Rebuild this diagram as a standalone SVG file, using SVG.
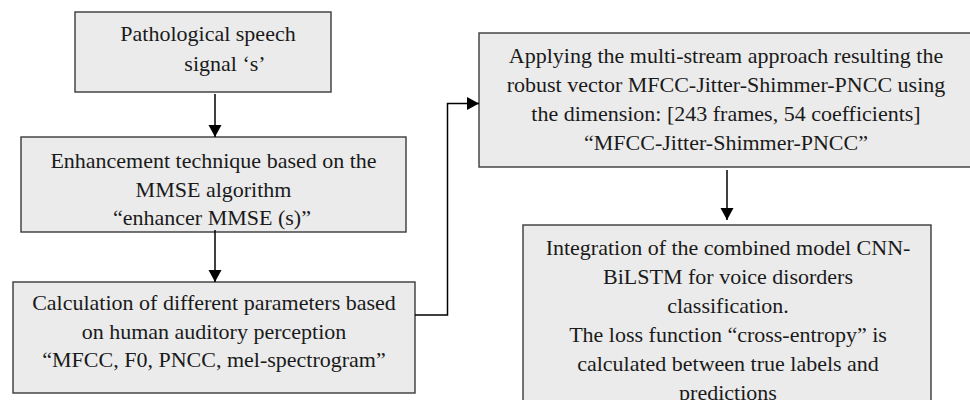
<svg xmlns="http://www.w3.org/2000/svg" width="970" height="400" viewBox="0 0 970 400">
  <style>
    .box { fill: #ebebeb; stroke: #3a3a3a; stroke-width: 1.4; }
    .lbl { font-size: 22px; fill: #1a1a1a; text-anchor: middle; }
    .conn { fill: none; stroke: #000; stroke-width: 1.5; }
  </style>
  <defs>
    <marker id="arrow" markerUnits="userSpaceOnUse" markerWidth="14" markerHeight="14" refX="12" refY="6.5" orient="auto">
      <path d="M0,0 L12,6.5 L0,13 Z" fill="#000"/>
    </marker>
  </defs>
  <rect width="970" height="400" fill="#fff"/>

  <g font-family="'Liberation Serif', 'DejaVu Serif', serif">
    <g id="signal">
      <rect class="box" x="75" y="12" width="256" height="80"/>
      <text class="lbl" x="208" y="41">Pathological speech</text>
      <text class="lbl" x="225" y="71">signal ‘s’</text>
    </g>

    <g id="enhancement">
      <rect class="box" x="21" y="137" width="385" height="95"/>
      <text class="lbl" x="213.5" y="168">Enhancement technique based on the</text>
      <text class="lbl" x="213.5" y="197">MMSE algorithm</text>
      <text class="lbl" x="212" y="225">“enhancer MMSE (s)”</text>
    </g>

    <g id="parameters">
      <rect class="box" x="13" y="282" width="402" height="111"/>
      <text class="lbl" x="214" y="310">Calculation of different parameters based</text>
      <text class="lbl" x="214" y="338.5">on human auditory perception</text>
      <text class="lbl" x="214" y="367">“MFCC, F0, PNCC, mel-spectrogram”</text>
    </g>

    <g id="multistream">
      <rect class="box" x="479" y="33" width="500" height="134"/>
      <text class="lbl" x="726" y="63">Applying the multi-stream approach resulting the</text>
      <text class="lbl" x="726" y="92">robust vector MFCC-Jitter-Shimmer-PNCC using</text>
      <text class="lbl" x="726" y="121">the dimension: [243 frames, 54 coefficients]</text>
      <text class="lbl" x="726" y="150">“MFCC-Jitter-Shimmer-PNCC”</text>
    </g>

    <g id="classifier">
      <rect class="box" x="523" y="225" width="408" height="190"/>
      <text class="lbl" x="728" y="255">Integration of the combined model CNN-</text>
      <text class="lbl" x="728" y="284">BiLSTM for voice disorders</text>
      <text class="lbl" x="728" y="313">classification.</text>
      <text class="lbl" x="728" y="342">The loss function “cross-entropy” is</text>
      <text class="lbl" x="728" y="371">calculated between true labels and</text>
      <text class="lbl" x="728" y="400">predictions</text>
    </g>
  </g>

  <g id="connectors">
    <path class="conn" d="M215,94 V137" marker-end="url(#arrow)"/>
    <path class="conn" d="M215,230 V282" marker-end="url(#arrow)"/>
    <path class="conn" d="M415,315 H447.5 V103.5 H479" marker-end="url(#arrow)"/>
    <path class="conn" d="M727,170 V220" marker-end="url(#arrow)"/>
  </g>
</svg>
